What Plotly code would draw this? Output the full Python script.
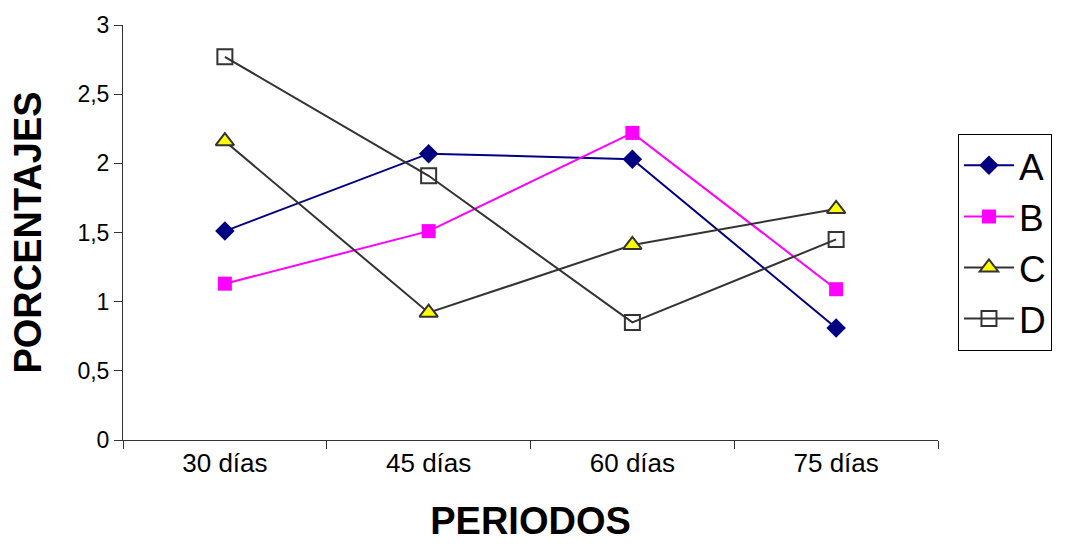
import plotly.graph_objects as go

categories = ["30 días", "45 días", "60 días", "75 días"]
serie_a = [1.51, 2.07, 2.03, 0.81]
serie_b = [1.13, 1.51, 2.22, 1.09]
serie_c = [2.16, 0.92, 1.41, 1.67]
serie_d = [2.77, 1.91, 0.85, 1.45]
y_ticks = [0, 0.5, 1, 1.5, 2, 2.5, 3]

FONT = "Liberation Sans, Arial, sans-serif"

fig = go.Figure()
fig.add_trace(go.Scatter(x=categories, y=serie_a, name="A", mode="lines+markers",
                         line=dict(color="#000080", width=2),
                         marker=dict(symbol="diamond", size=15, color="#000080")))
fig.add_trace(go.Scatter(x=categories, y=serie_b, name="B", mode="lines+markers",
                         line=dict(color="#FF00FF", width=2),
                         marker=dict(symbol="square", size=14, color="#FF00FF")))
fig.add_trace(go.Scatter(x=categories, y=serie_c, name="C", mode="lines+markers",
                         line=dict(color="#333333", width=2),
                         marker=dict(symbol="triangle-up", size=16, color="#FFFF00",
                                     line=dict(color="#333333", width=2))))
fig.add_trace(go.Scatter(x=categories, y=serie_d, name="D", mode="lines+markers",
                         line=dict(color="#333333", width=2),
                         marker=dict(symbol="square-open", size=15, color="#333333",
                                     line=dict(color="#333333", width=2))))

fig.update_layout(
    width=1068, height=547,
    margin=dict(l=123, r=130, t=21, b=107),
    paper_bgcolor="white", plot_bgcolor="white",
    separators=",.",
    font=dict(family=FONT, color="black"),
    showlegend=True,
    legend=dict(x=1.0245, xanchor="left", y=0.738, yanchor="top",
                bordercolor="black", borderwidth=1, bgcolor="white",
                font=dict(size=37, family=FONT), tracegroupgap=0,
                itemwidth=50),
)
fig.update_xaxes(
    type="category", range=[-0.5, 3.5], tickson="boundaries", ticks="outside", ticklen=8,
    tickcolor="#333333", showline=True, linecolor="#333333", linewidth=1,
    showgrid=False, tickfont=dict(size=26, family=FONT),
    title=dict(text="<b>PERIODOS</b>", font=dict(size=38, family=FONT), standoff=30),
)
fig.update_yaxes(
    range=[0, 3], tickvals=y_ticks, ticks="outside", ticklen=8,
    tickcolor="#333333", showline=True, linecolor="#333333", linewidth=1,
    showgrid=False, zeroline=False, tickfont=dict(size=23, family=FONT),
    title=dict(text="<b>PORCENTAJES</b>", font=dict(size=38, family=FONT), standoff=24),
)

fig.write_html("out.html")
